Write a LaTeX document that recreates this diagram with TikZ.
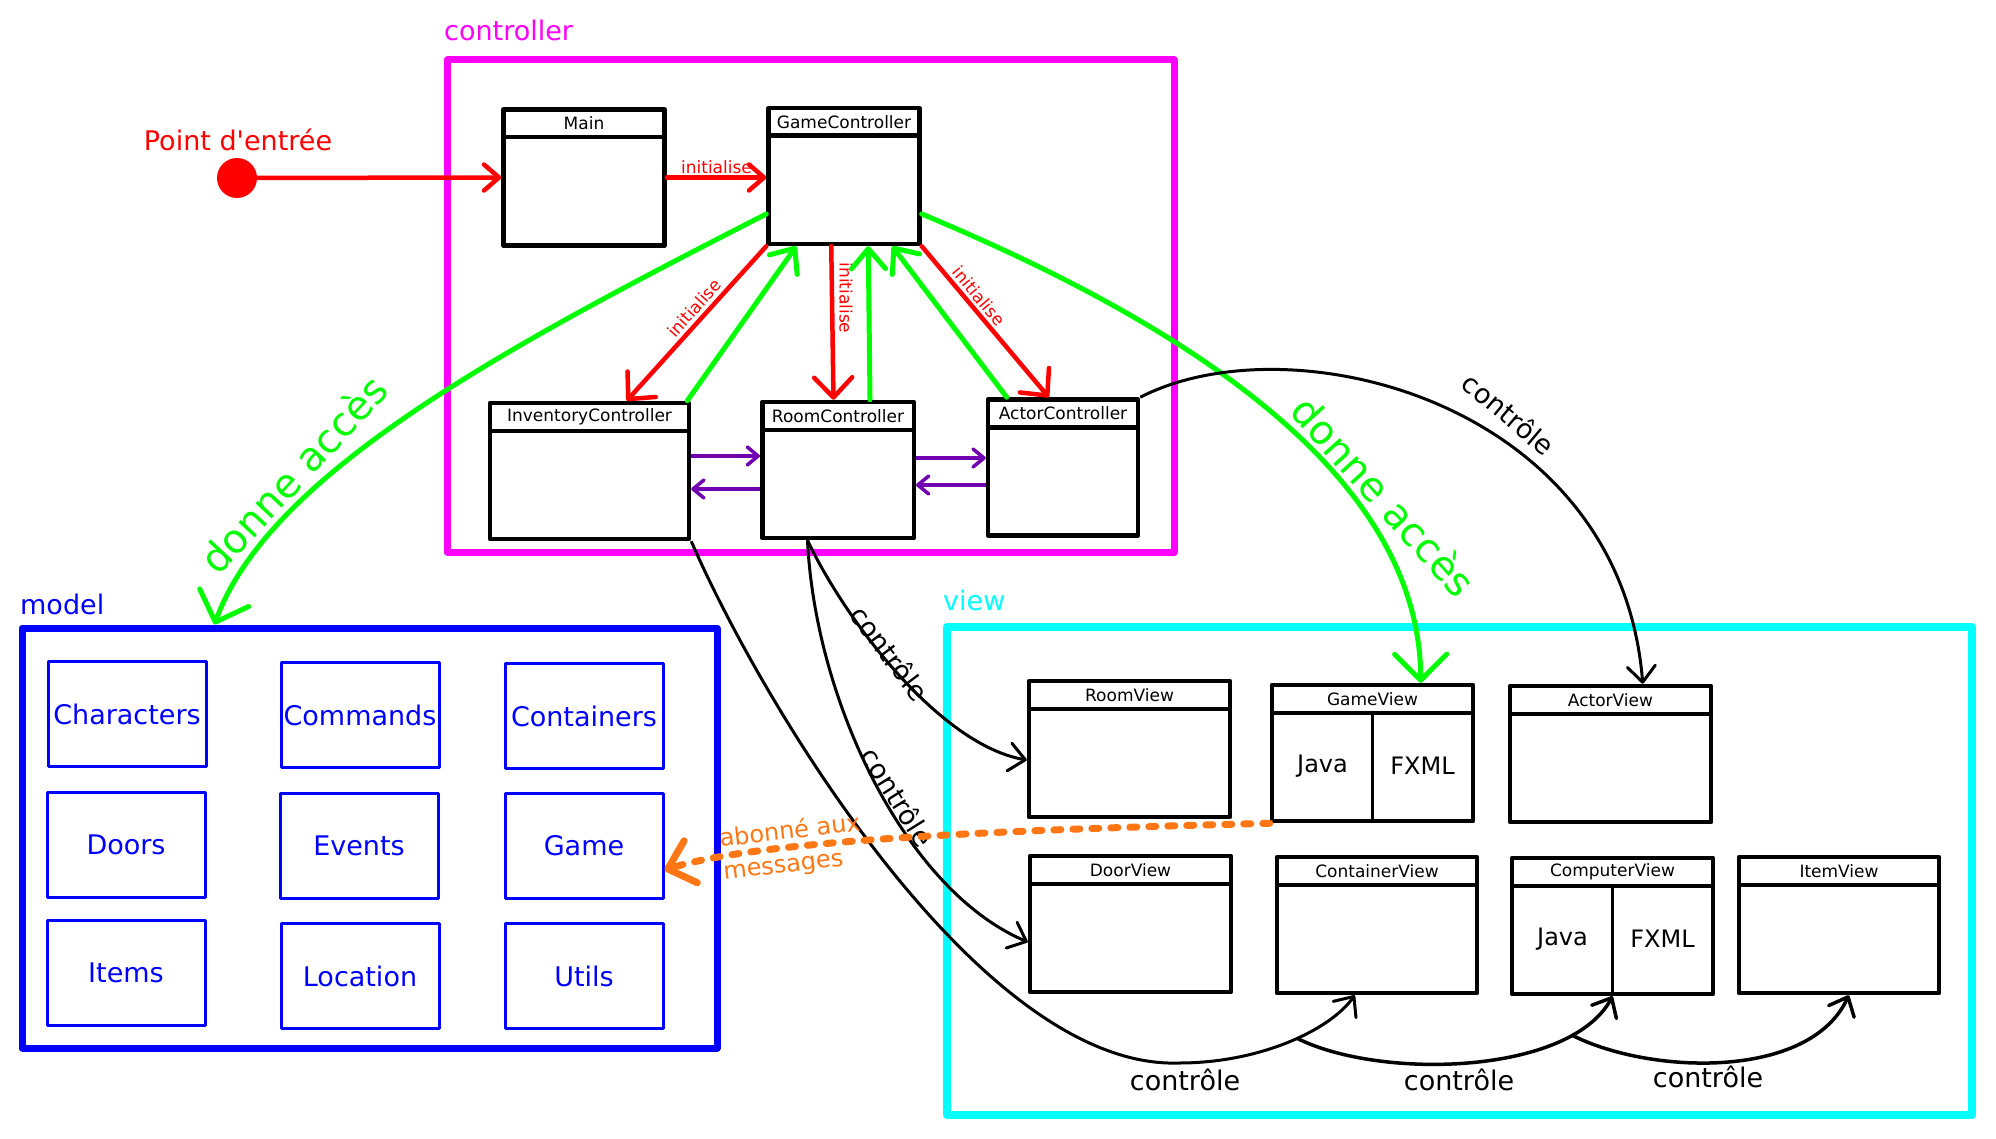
\documentclass[tikz,border=0pt]{standalone}
\usepackage{fontspec}
\setmainfont{DejaVu Sans}[Ligatures=TeXOff]
\usetikzlibrary{arrows.meta,calc}
\definecolor{cmag}{RGB}{255,0,255}
\definecolor{cblue}{RGB}{0,0,255}
\definecolor{ccyan}{RGB}{0,255,255}
\definecolor{cred}{RGB}{255,0,0}
\definecolor{cgreen}{RGB}{0,255,0}
\definecolor{corange}{RGB}{255,119,20}
\definecolor{cpurple}{RGB}{112,0,176}
\tikzset{
  frame/.style={line width=7pt, line join=round, inner sep=0pt},
  cls/.style={draw, fill=white, line width=4.5pt, line join=round, inner sep=0pt, minimum height=136pt},
  hdrline/.style={line width=4.5pt},
  hdrtext/.style={font=\fontsize{17}{20}\selectfont, inner sep=0pt},
  pkg/.style={draw=cblue, text=cblue, line width=3pt, line join=round, minimum width=158pt, minimum height=105pt, inner sep=0pt, font=\fontsize{27}{32}\selectfont},
  grouplabel/.style={font=\fontsize{27}{32}\selectfont, inner sep=0pt},
  redarr/.style={draw=cred, line width=4.5pt, line cap=round, -{Straight Barb[length=20pt,width=38pt,round]}},
  redsmall/.style={draw=cred, line width=4.5pt, line cap=round, -{Straight Barb[length=15pt,width=26pt,round]}},
  greenarr/.style={draw=cgreen, line width=5pt, line cap=round, -{Straight Barb[length=20pt,width=34pt,round]}},
  gbig/.style={draw=cgreen, line width=5pt, line cap=round, -{Straight Barb[length=26pt,width=52pt,round]}},
  purp/.style={draw=cpurple, line width=3.5pt, -{Straight Barb[length=11pt,width=18pt,round]}},
  blk/.style={draw=black, line width=3pt, -{Straight Barb[length=16pt,width=28pt,round]}},
  orng/.style={draw=corange, line width=7pt, line cap=round, dash pattern=on 7pt off 12pt, -{Straight Barb[length=24pt,width=44pt,round]}},
  lbl/.style={text=cred, font=\fontsize{17}{20}\selectfont, inner sep=0pt},
  glbl/.style={text=cgreen, font=\fontsize{40}{48}\selectfont, inner sep=0pt},
  clbl/.style={text=black, font=\fontsize{27}{32}\selectfont, inner sep=0pt},
  javatext/.style={font=\fontsize{24}{28}\selectfont, inner sep=0pt}
}
\begin{document}
\begin{tikzpicture}[x=1pt,y=-1pt]
\useasboundingbox (0,0) rectangle (1996,1139);

% containers
\node[frame, draw=cmag, minimum width=727pt, minimum height=492pt] (controller) at (810.5,306) {};
\node[frame, draw=cblue, minimum width=695pt, minimum height=420pt] (model) at (369.5,838) {};
\node[frame, draw=ccyan, line width=8pt, minimum width=1025pt, minimum height=488pt] (view) at (1459.5,871) {};

\node[grouplabel, text=cmag, anchor=base west] (controllerlabel) at (444,41) {controller};
\node[grouplabel, text=cblue, anchor=base west] (modellabel) at (20,614) {model};
\node[grouplabel, text=ccyan, anchor=base west] (viewlabel) at (943,610) {view};

% class boxes
\foreach \n/\x/\y/\w in {
 Main/584/177.5/161,
 GameController/844/176/151,
 InventoryController/589.5/471/199,
 RoomController/838/470/151.5,
 ActorController/1063/467.5/150,
 RoomView/1129.5/749/201,
 GameView/1372.5/753/201,
 ActorView/1610.5/754/201,
 DoorView/1130.5/924/201,
 ContainerView/1377/925/200,
 ComputerView/1612.5/926/201,
 ItemView/1839/925/200}
{
 \node[cls, minimum width=\w pt] (\n) at (\x,\y) {};
 \draw[hdrline] ([yshift=-30pt]\n.north west) -- ([yshift=-30pt]\n.north east);
 \node[hdrtext] at ([yshift=-16pt]\n.north) {\n};
}

% split views
\draw[line width=3pt] ([yshift=-30pt]GameView.north) -- ([yshift=2pt]GameView.south);
\node[javatext] at ([xshift=-50pt,yshift=-13pt]GameView.center) {Java};
\node[javatext] at ([xshift=50pt,yshift=-13pt]GameView.center) {FXML};
\draw[line width=3pt] ([yshift=-30pt]ComputerView.north) -- ([yshift=2pt]ComputerView.south);
\node[javatext] at ([xshift=-50pt,yshift=-13pt]ComputerView.center) {Java};
\node[javatext] at ([xshift=50pt,yshift=-13pt]ComputerView.center) {FXML};

% model packages
\foreach \t/\x/\y in {Characters/127/714, Commands/360/715, Containers/584/716,
  Doors/126/845, Events/359/846, Game/584/846,
  Items/126/973, Location/360/976, Utils/584/976}
  \node[pkg] (\t) at (\x,\y) {\t};

% entry point
\node[circle, fill=cred, minimum size=40pt, inner sep=0pt] (entry) at (237,178) {};
\node[text=cred, font=\fontsize{27}{32}\selectfont, inner sep=0pt, anchor=base] (entrylabel) at (238,151) {Point d'entrée};
\draw[redsmall] (entry) -- (Main.west);
\draw[redsmall] (Main.east) -- (Main.east -| GameController.west)
  node[midway, above=2pt, lbl] {initialise};

% controller internal arrows
\draw[redarr] (GameController.south west) -- ([xshift=139pt]InventoryController.north west);
\node[lbl, rotate=48] at (694,308) {initialise};
\draw[greenarr] ([xshift=-4pt]InventoryController.north east) -- ([xshift=30pt]GameController.south west);
\draw[redarr] ([xshift=65pt]GameController.south west) -- ([xshift=73.5pt]RoomController.north west);
\node[lbl, rotate=-90] at (846,298) {initialise};
\draw[greenarr] ([xshift=110pt]RoomController.north west) -- ([xshift=102pt]GameController.south west);
\draw[greenarr] ([xshift=21pt]ActorController.north west) -- ([xshift=126pt]GameController.south west);
\draw[redarr] (GameController.south east) -- ([xshift=63pt]ActorController.north west);
\node[lbl, rotate=-50] at (979,296) {initialise};

\draw[purp] ($(InventoryController.east)+(0,-15)$) -- ($(RoomController.west |- InventoryController.east)+(0,-15)$);
\draw[purp] ($(RoomController.west |- InventoryController.east)+(0,18)$) -- ($(InventoryController.east)+(0,18)$);
\draw[purp] ($(RoomController.east)+(0,-12)$) -- ($(ActorController.west |- RoomController.east)+(0,-12)$);
\draw[purp] ($(ActorController.west |- RoomController.east)+(0,15)$) -- ($(RoomController.east)+(0,15)$);

% donne acces
\draw[gbig] ([yshift=-38pt]GameController.west) .. controls (520,340) and (270,470) .. ([xshift=196pt]model.north west);
\node[glbl, rotate=47] at (293,474) {donne accès};
\draw[gbig] ([yshift=-38pt]GameController.east) .. controls (1200,330) and (1420,480) .. ([xshift=151pt]GameView.north west);
\node[glbl, rotate=-48] at (1384,496) {donne accès};

% controle
\draw[blk] (ActorController.north east) .. controls (1290,320) and (1620,400) .. ([xshift=135pt]ActorView.north west);
\node[clbl, rotate=-40] at (1509,414) {contrôle};
\draw[blk] ([xshift=47.5pt]RoomController.south west) .. controls (845,620) and (940,745) .. ([yshift=-11pt]RoomView.west);
\node[clbl, rotate=-53] at (890,653) {contrôle};
\draw[blk] ([xshift=47.5pt]RoomController.south west) .. controls (815,700) and (905,890) .. ([yshift=-18pt]DoorView.west);
\node[clbl, rotate=-58] at (898,797) {contrôle};

\coordinate (bend1) at (1179,1063);
\draw[blk] (InventoryController.south east) .. controls (760,700) and (980,1070) .. (bend1)
  .. controls (1260,1063) and (1330,1030) .. ([xshift=80pt]ContainerView.south west) coordinate[pos=0.55] (j1);
\draw[blk, line width=3.5pt] (j1) .. controls (1380,1080) and (1570,1075) .. (ComputerView.south) coordinate[pos=0.8] (j2);
\draw[blk, line width=3.5pt] (j2) .. controls (1650,1075) and (1810,1080) .. ([xshift=112pt]ItemView.south west);
\node[clbl] at (1185,1080) {contrôle};
\node[clbl] at (1459,1080) {contrôle};
\node[clbl] at (1708,1077) {contrôle};

% abonne
\draw[orng] (GameView.south west) .. controls (1000,830) and (760,840) .. ([yshift=-24pt]Game.east);
\node[text=corange, rotate=6.5, align=left, font=\fontsize{24}{33}\selectfont, inner sep=0pt] at (792,848) {abonné aux\\messages};
\end{tikzpicture}
\end{document}
